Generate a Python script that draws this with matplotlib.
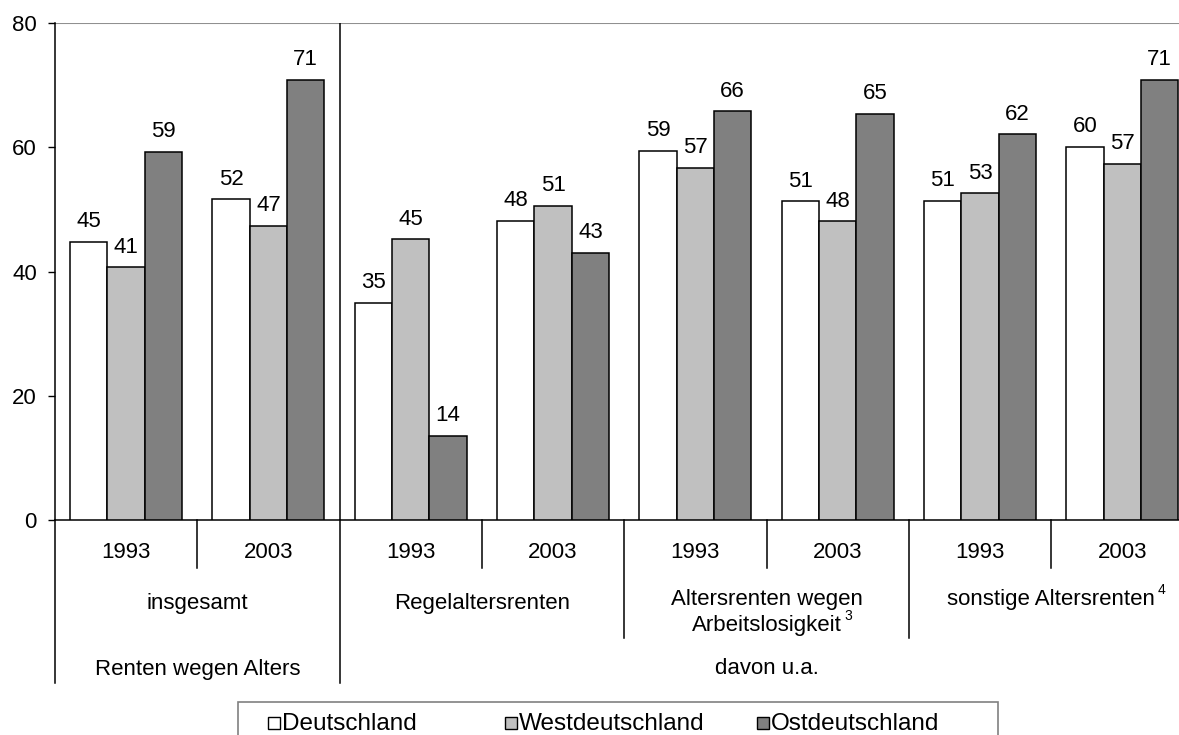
import matplotlib

matplotlib.use("Agg")
import matplotlib.pyplot as plt
import matplotlib.transforms as mtransforms
from matplotlib.patches import Rectangle

plt.rcParams["font.family"] = ["Liberation Sans", "DejaVu Sans"]
plt.rcParams["font.size"] = 16

# Werte in Prozent, Reihenfolge: insgesamt 93/03, Regel 93/03, Arbeitslosigkeit 93/03, sonstige 93/03
years = ["1993", "2003"]
categories = [["insgesamt"], ["Regelaltersrenten"], ["Altersrenten wegen", "Arbeitslosigkeit"],
              ["sonstige Altersrenten"]]
cat_notes = ["", "", "3", "4"]
top_groups = ["Renten wegen Alters", "davon u.a."]
series_names = ["Deutschland", "Westdeutschland", "Ostdeutschland"]
deutschland = [44.8, 51.6, 35.0, 48.2, 59.4, 51.3, 51.4, 60.1]
westdeutschland = [40.7, 47.4, 45.2, 50.6, 56.7, 48.1, 52.6, 57.3]
ostdeutschland = [59.3, 70.9, 13.6, 43.0, 65.8, 65.4, 62.1, 70.9]
y_ticks = [0, 20, 40, 60, 80]

colors = ["white", "#c0c0c0", "#808080"]
W, H = 1179, 735

fig = plt.figure(figsize=(W / 100, H / 100), dpi=100)
# Plotflaeche laeuft rechts etwas ueber den Bildrand hinaus (wie im Original)
ax_left, ax_bottom, ax_top, group_px = 55, 520, 23, 142.3
ax = fig.add_axes([ax_left / W, 1 - ax_bottom / H, 8 * group_px / W, (ax_bottom - ax_top) / H])

n_groups = len(deutschland)
bw = 0.2625
x = list(range(n_groups))
for i, (vals, col) in enumerate(zip([deutschland, westdeutschland, ostdeutschland], colors)):
    pos = [k + 0.5 + (i - 1) * bw for k in x]
    bars = ax.bar(pos, vals, width=bw, color=col, edgecolor="black", linewidth=1.1, zorder=3)
    for b, v in zip(bars, vals):
        ax.annotate(f"{v:.0f}", (b.get_x() + b.get_width() / 2, v), xytext=(0, 10.5),
                    textcoords="offset points", ha="center", va="baseline", fontsize=16)

ax.set_xlim(0, n_groups)
ax.set_ylim(0, 80)
ax.set_yticks(y_ticks)
ax.tick_params(axis="y", length=5, width=1, pad=8, labelsize=16)
ax.set_xticks([])
for s in ["top", "right"]:
    ax.spines[s].set_visible(False)
ax.spines["left"].set_linewidth(1.1)
ax.spines["bottom"].set_linewidth(1.1)
ax.axhline(80, color="#909090", lw=1.5, zorder=1)
ax.axvline(2, color="black", lw=1.1, zorder=1)

# mehrstufige Kategorienachse unterhalb der Plotflaeche
plot_h = ax_bottom - ax_top
trans = mtransforms.blended_transform_factory(ax.transData, ax.transAxes)


def drop(px):
    return -px / plot_h


def vline(xpos, px):
    ax.plot([xpos, xpos], [0, drop(px)], color="black", lw=1.1, transform=trans, clip_on=False)


for k in [1, 3, 5, 7]:
    vline(k, 48)
for k in [4, 6]:
    vline(k, 118)
for k in [0, 2]:
    vline(k, 163)

for k in x:
    ax.text(k + 0.5, drop(33), years[k % 2], ha="center", va="center", transform=trans)

line_y = [[84], [84], [79, 106], [80]]
for c, (lines, note) in enumerate(zip(categories, cat_notes)):
    t = None
    for line, py in zip(lines, line_y[c]):
        t = ax.text(2 * c + 1, drop(py), line, ha="center", va="center", transform=trans)
    if note:
        # Fussnotenzeichen hochgestellt hinter der letzten Zeile
        ax.annotate(note, xy=(1, 1), xycoords=t, xytext=(2, 5), textcoords="offset points",
                    ha="left", va="top", fontsize=10)

ax.text(1, drop(149), top_groups[0], ha="center", va="center", transform=trans)
ax.text(5, drop(149), top_groups[1], ha="center", va="center", transform=trans)

# Legende von Hand gesetzt (Rahmen unten vom Bildrand abgeschnitten)
fig.patches.append(Rectangle((238 / W, -0.02), (998 - 238) / W, 0.02 + 1 - 702 / H,
                             transform=fig.transFigure, facecolor="none",
                             edgecolor="#808080", linewidth=1.2))
leg_x = [268, 505, 757]
sq = 12
for px, name, col in zip(leg_x, series_names, colors):
    fig.patches.append(Rectangle((px / W, 1 - 729 / H), sq / W, sq / H, transform=fig.transFigure,
                                 facecolor=col, edgecolor="black", linewidth=1))
    fig.text((px + sq + 2) / W, 1 - 730 / H, name, ha="left", va="baseline", fontsize=17.5)

fig.savefig("out.png", dpi=100)
